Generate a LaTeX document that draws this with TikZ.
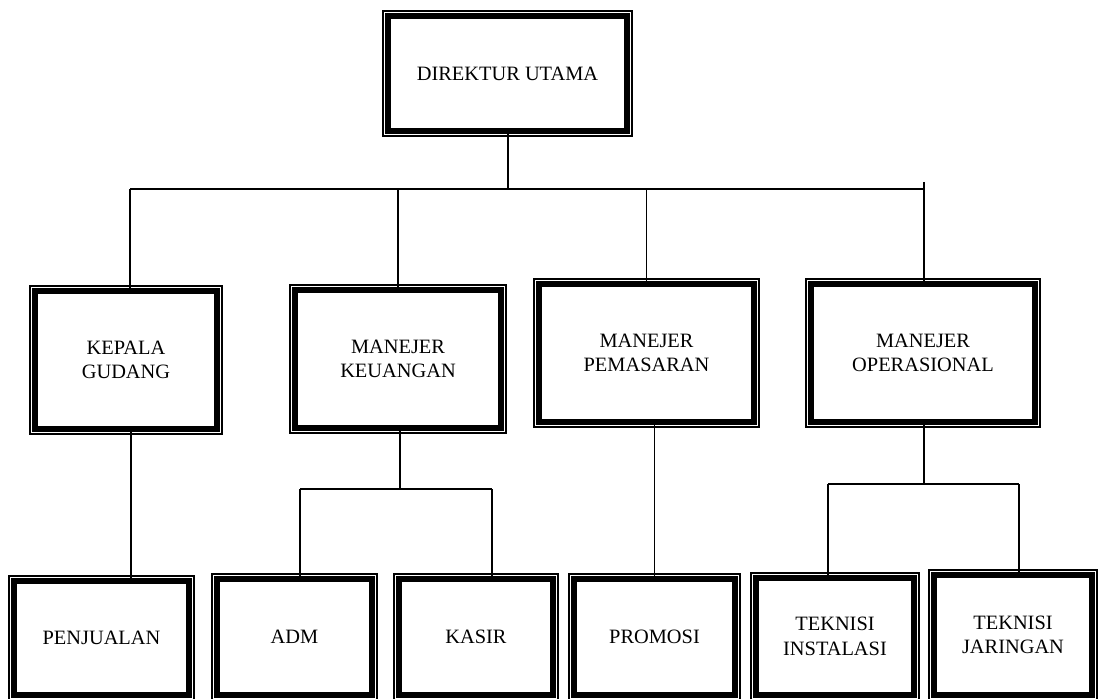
\documentclass[tikz,border=0pt]{standalone}
\usepackage{fontspec}
\setmainfont{Liberation Serif}
\begin{document}
\begin{tikzpicture}[x=0.02cm,y=-0.02cm,
    jabatan/.style={draw,line width=3.4pt,align=center,inner sep=0pt,outer sep=0pt,
        font=\fontsize{11.6}{14}\selectfont,
        append after command={\pgfextra{\draw[line width=0.85pt]
            ([shift={(-0.105cm,0.105cm)}]\tikzlastnode.north west) rectangle
            ([shift={(0.105cm,-0.105cm)}]\tikzlastnode.south east);}}},
    garis/.style={line width=0.95pt}]
    \useasboundingbox (0,0) rectangle (1099,699);
    \clip (0,0) rectangle (1099,699);

    \node[jabatan,minimum width=4.78cm,minimum height=2.30cm] (dirut) at (507.5,73.5) {DIREKTUR UTAMA};

    \node[jabatan,minimum width=3.64cm,minimum height=2.76cm] (gudang) at (126,360) {KEPALA\\GUDANG};
    \node[jabatan,minimum width=4.12cm,minimum height=2.76cm] (keuangan) at (398,359) {MANEJER\\KEUANGAN};
    \node[jabatan,minimum width=4.30cm,minimum height=2.76cm] (pemasaran) at (646.5,353) {MANEJER\\PEMASARAN};
    \node[jabatan,minimum width=4.48cm,minimum height=2.76cm] (operasional) at (923,353) {MANEJER\\OPERASIONAL};

    \node[jabatan,minimum width=3.50cm,minimum height=2.28cm] (penjualan) at (101.5,638) {PENJUALAN};
    \node[jabatan,minimum width=3.10cm,minimum height=2.32cm] (adm) at (294.5,637) {ADM};
    \node[jabatan,minimum width=3.08cm,minimum height=2.32cm] (kasir) at (476,637) {KASIR};
    \node[jabatan,minimum width=3.22cm,minimum height=2.32cm] (promosi) at (654.5,637) {PROMOSI};
    \node[jabatan,minimum width=3.16cm,minimum height=2.34cm] (instalasi) at (835,636.5) {TEKNISI\\INSTALASI};
    \node[jabatan,minimum width=3.16cm,minimum height=2.40cm] (jaringan) at (1013,635) {TEKNISI\\JARINGAN};

    \coordinate (atas) at (508,189);
    \coordinate (atasKiri) at (130,189);
    \coordinate (atasKanan) at (924,189);
    \coordinate (ujungKanan) at (924,182);
    \coordinate (keuBawah) at (400,489);
    \coordinate (keuKiri) at (300,489);
    \coordinate (keuKanan) at (492,489);
    \coordinate (opsBawah) at (924,484);
    \coordinate (opsKiri) at (828,484);
    \coordinate (opsKanan) at (1019,484);

    \draw[garis] (atas |- dirut.south) -- (atas);
    \draw[garis] (atasKiri) -- (atasKanan);
    \draw[garis] (atasKiri) -- (atasKiri |- gudang.north);
    \draw[garis] (keuangan.north |- atas) -- (keuangan.north);
    \draw[garis] (pemasaran.north |- atas) -- (pemasaran.north);
    \draw[garis] (ujungKanan) -- (ujungKanan |- operasional.north);

    \draw[garis] ([xshift=0.1cm]gudang.south) -- ([xshift=0.1cm]gudang.south |- penjualan.north);
    \draw[garis] (keuBawah |- keuangan.south) -- (keuBawah);
    \draw[garis] (keuKiri) -- (keuKanan);
    \draw[garis] (keuKiri) -- (keuKiri |- adm.north);
    \draw[garis] (keuKanan) -- (keuKanan |- kasir.north);
    \draw[garis] (promosi.north |- pemasaran.south) -- (promosi.north);
    \draw[garis] (opsBawah |- operasional.south) -- (opsBawah);
    \draw[garis] (opsKiri) -- (opsKanan);
    \draw[garis] (opsKiri) -- (opsKiri |- instalasi.north);
    \draw[garis] (opsKanan) -- (opsKanan |- jaringan.north);
\end{tikzpicture}
\end{document}
